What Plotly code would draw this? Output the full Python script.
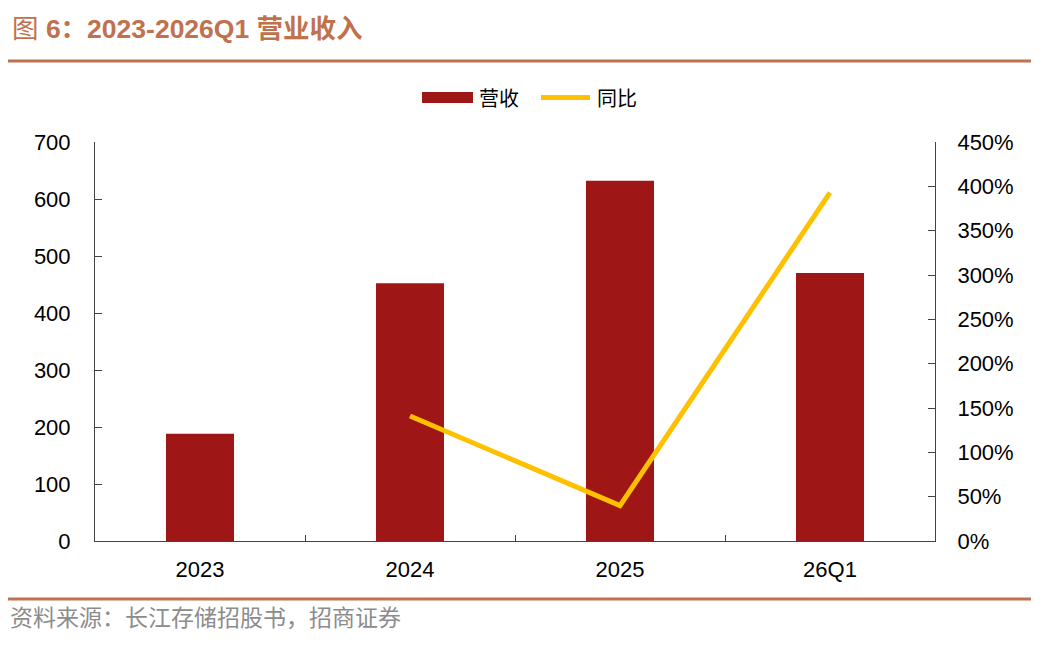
import plotly.graph_objects as go

categories = ['2023', '2024', '2025', '26Q1']
revenue = [188, 452, 632, 470]
yoy = [None, 1.41, 0.40, 3.93]

bar_color = '#9E1716'
line_color = '#FFC000'
accent = '#C0714E'

# the page puts the figure 8px in from the top left corner
OFF = 8
W, H = 1047 - OFF, 647 - OFF
L, R, T, B = 95 - OFF, 935 - OFF, 142 - OFF, 541 - OFF   # plot area in figure pixels


def px(x):
    return (x - OFF - L) / (R - L)


def py(y):
    return (B - (y - OFF)) / (B - T)


fig = go.Figure()
fig.add_trace(go.Bar(x=categories, y=revenue, name='营收',
                     marker=dict(color=bar_color, line_width=0)))
fig.add_trace(go.Scatter(x=categories, y=yoy, name='同比', yaxis='y2',
                         mode='lines', connectgaps=False,
                         line=dict(color=line_color, width=5)))

axis_font = dict(family='Liberation Sans, Arial, sans-serif', size=22, color='#000')

fig.update_layout(
    width=W, height=H,
    margin=dict(l=L, r=W - R, t=T, b=H - B, pad=0),
    paper_bgcolor='white', plot_bgcolor='white',
    showlegend=False,
    bargap=0.676,
    font=dict(family='Liberation Sans, Noto Sans CJK SC, sans-serif'),
    xaxis=dict(showline=True, linecolor='#444', linewidth=1,
               ticks='inside', tickson='boundaries', ticklen=6, tickcolor='#444',
               tickfont=axis_font, ticklabelstandoff=9, showgrid=False),
    yaxis=dict(range=[0, 700], dtick=100, showline=True, linecolor='#444', linewidth=1,
               ticks='inside', ticklen=7, tickcolor='#444', showgrid=False, zeroline=False,
               tickfont=axis_font, ticklabelstandoff=19),
    yaxis2=dict(range=[0, 4.5], dtick=0.5, tickformat='.0%', overlaying='y', side='right',
                showline=True, linecolor='#444', linewidth=1,
                ticks='inside', ticklen=7, tickcolor='#444', showgrid=False, zeroline=False,
                tickfont=axis_font, ticklabelstandoff=17),
)

# title, rules and source
fig.add_annotation(x=px(10), y=py(29), xref='paper', yref='paper', xanchor='left', yanchor='middle',
                   showarrow=False, text='图 <b>6：2023-2026Q1 营业收入</b>',
                   font=dict(family='Liberation Sans, Noto Sans CJK SC', size=26.5, color=accent))
fig.add_shape(type='line', xref='paper', yref='paper', x0=px(7), x1=px(1031), y0=py(61), y1=py(61),
              line=dict(color=accent, width=3))
fig.add_shape(type='line', xref='paper', yref='paper', x0=px(7), x1=px(1031), y0=py(599), y1=py(599),
              line=dict(color=accent, width=3))
fig.add_annotation(x=px(8), y=py(616), xref='paper', yref='paper', xanchor='left', yanchor='middle',
                   showarrow=False, text='资料来源：长江存储招股书，招商证券',
                   font=dict(family='Noto Sans CJK SC', size=23, color='#8C8C8C'))

# legend
legend_font = dict(family='Noto Sans CJK SC', size=20, color='#000')
fig.add_shape(type='rect', xref='paper', yref='paper', x0=px(422), x1=px(473), y0=py(92), y1=py(103),
              fillcolor=bar_color, line_width=0)
fig.add_annotation(x=px(477), y=py(97), xref='paper', yref='paper', xanchor='left', yanchor='middle',
                   showarrow=False, text='营收', font=legend_font)
fig.add_shape(type='line', xref='paper', yref='paper', x0=px(541), x1=px(590), y0=py(97.5), y1=py(97.5),
              line=dict(color=line_color, width=5))
fig.add_annotation(x=px(595), y=py(97), xref='paper', yref='paper', xanchor='left', yanchor='middle',
                   showarrow=False, text='同比', font=legend_font)

fig.write_html('out.html')
